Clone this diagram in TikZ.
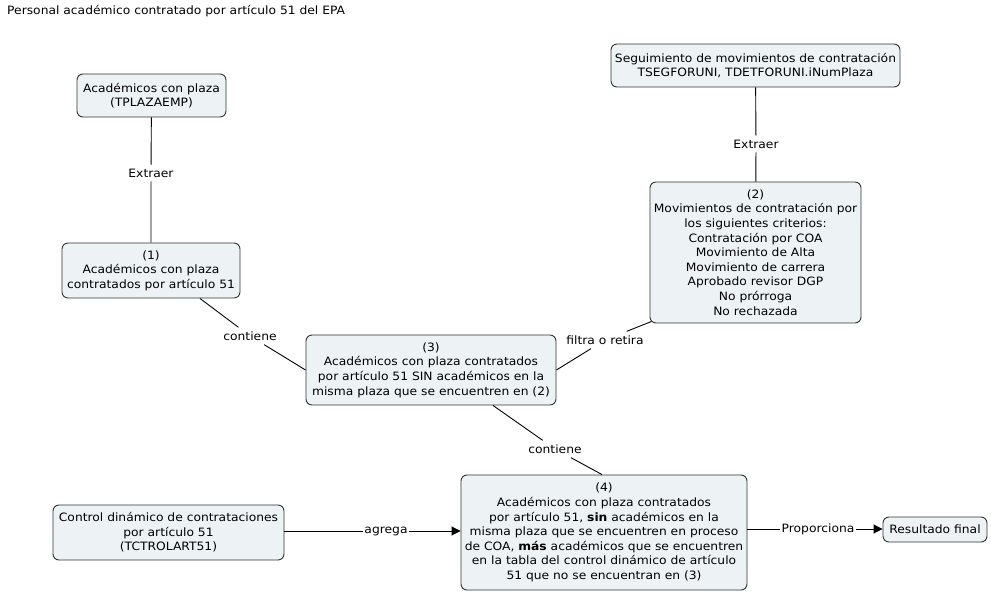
\documentclass[tikz,border=0pt]{standalone}
\usepackage{fontspec}
\setmainfont{DejaVu Sans}[FakeStretch=1.07]
\usetikzlibrary{arrows.meta}
\definecolor{boxfill}{HTML}{EDF2F4}
\definecolor{boxline}{HTML}{333333}
\tikzset{
  concept/.style={draw=boxline, fill=boxfill, rounded corners=6pt, line width=0.9pt,
    align=center, inner sep=2pt, font=\fontsize{11.5}{14.6}\selectfont},
  linklabel/.style={inner xsep=1.5pt, inner ysep=4pt, font=\fontsize{11.5}{14.6}\selectfont},
  conn/.style={line width=0.9pt, black},
  arr/.style={conn, -{Triangle[length=9pt,width=9pt]}}
}
\begin{document}
\begin{tikzpicture}[x=1pt,y=-1pt]
\useasboundingbox (0,0) rectangle (991,593);
\node[anchor=west, inner sep=0pt, font=\fontsize{11.5}{14.6}\selectfont] (title) at (7,11) {Personal académico contratado por artículo 51 del EPA};

\node[concept, minimum width=149pt, minimum height=43pt] (bA) at (151.5,95.5) {Académicos con plaza\\(TPLAZAEMP)};
\node[concept, minimum width=178pt, minimum height=55pt] (b1) at (151,270.5) {(1)\\Académicos con plaza\\contratados por artículo 51};
\node[concept, minimum width=289pt, minimum height=43pt] (bS) at (755.5,65.5) {Seguimiento de movimientos de contratación\\TSEGFORUNI, TDETFORUNI.iNumPlaza};
\node[concept, minimum width=211pt, minimum height=141pt] (b2) at (755.5,252.5) {(2)\\Movimientos de contratación por\\los siguientes criterios:\\Contratación por COA\\Movimiento de Alta\\Movimiento de carrera\\Aprobado revisor DGP\\No prórroga\\No rechazada};
\node[concept, minimum width=250pt, minimum height=70pt] (b3) at (431,370) {(3)\\Académicos con plaza contratados\\por artículo 51 SIN académicos en la\\misma plaza que se encuentren en (2)};
\node[concept, minimum width=286pt, minimum height=115pt] (b4) at (604,532.5) {(4)\\Académicos con plaza contratados\\por artículo 51, \textbf{sin} académicos en la\\misma plaza que se encuentren en proceso\\de COA, \textbf{más} académicos que se encuentren\\en la tabla del control dinámico de artículo\\51 que no se encuentran en (3)};
\node[concept, minimum width=231pt, minimum height=55pt] (bC) at (168.5,532.5) {Control dinámico de contrataciones\\por artículo 51\\(TCTROLART51)};
\node[concept, minimum width=104pt, minimum height=25pt] (bR) at (935,529.5) {Resultado final};

\node[linklabel] (e1) at (151,173) {Extraer};
\node[linklabel] (e2) at (756,144) {Extraer};
\node[linklabel] (c1) at (250,336) {contiene};
\node[linklabel] (f1) at (605,340) {filtra o retira};
\node[linklabel] (c2) at (555,449) {contiene};
\node[linklabel, inner ysep=1.5pt] (ag) at (386,531) {agrega};
\node[linklabel, inner ysep=1.5pt] (pr) at (818,529) {Proporciona};

\draw[conn] (bA) -- (e1) -- (b1);
\draw[conn] (bS) -- (e2) -- (b2);
\draw[conn] ([xshift=49pt]b1.south) -- (c1);
\draw[conn] (c1) -- (b3.west);
\draw[conn] (b3.east) -- (f1);
\draw[conn] (f1) -- ([shift={(2,-2)}]b2.south west);
\draw[conn] ([xshift=62pt]b3.south) -- (c2);
\draw[conn] (c2) -- ([xshift=-2pt]b4.north);
\draw[conn] (bC.east |- ag) -- (ag);
\draw[arr] (ag) -- (b4.west |- ag);
\draw[conn] (b4.east |- pr) -- (pr);
\draw[arr] (pr) -- (bR.west |- pr);
\end{tikzpicture}
\end{document}
